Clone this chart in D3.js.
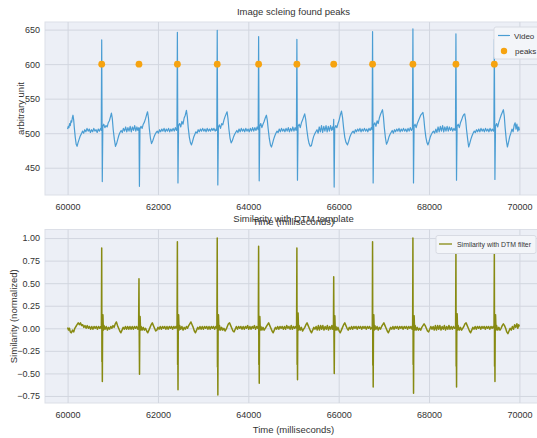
<!DOCTYPE html>
<html>
<head>
<meta charset="utf-8">
<script src="https://cdn.jsdelivr.net/npm/d3@7/dist/d3.min.js"></script>
<style>
  body { margin: 0; background: #ffffff; }
  svg text { font-family: "Liberation Sans Narrow", "Liberation Sans", Arial, sans-serif; fill: #333; }
  .ylab { font-family: "Liberation Sans", Arial, sans-serif; }
</style>
</head>
<body>
<svg id="chart" width="537" height="438"></svg>
<script>
// Step 1: data
const xTicks = [60000, 62000, 64000, 66000, 68000, 70000];
const videoTicks = [450, 500, 550, 600, 650];
const simTicks = [-0.75, -0.5, -0.25, 0, 0.25, 0.5, 0.75, 1.0];

const peakTimes = [60755, 61580, 62430, 63312, 64228, 65075, 65890, 66750, 67643, 68595, 69445];
const peakValues = [600, 600, 600, 600, 600, 600, 600, 600, 600, 600, 600];

// video signal, [time ms, value]
const videoSignal = [
  [60000,506],[60015,510],[60030,508],[60045,514],[60060,511],[60075,518],[60090,516],[60105,522],[60120,526],[60135,519],[60150,507],[60170,494],[60190,484],[60210,481],[60230,486],[60255,491],[60280,496],[60305,499],[60330,503],[60355,500],[60380,505],[60405,502],[60430,507],[60455,503],[60480,506],[60505,501],[60530,505],[60555,502],[60580,507],[60605,503],[60630,505],[60655,501],[60680,506],[60705,503],[60730,507],[60745,504],
  [60755,635],[60768,430],[60780,510],
  [60800,513],[60825,508],[60850,511],[60875,509],[60900,515],[60925,518],[60950,524],[60970,529],[60990,521],[61010,505],[61035,491],[61060,481],[61085,485],[61110,491],[61135,497],[61160,501],[61185,504],[61210,501],[61235,507],[61260,503],[61285,509],[61310,502],[61335,508],[61360,503],[61385,510],[61410,502],[61435,509],[61460,504],[61485,511],[61510,503],[61535,509],[61555,504],[61570,507],
  [61580,508],[61590,423],[61602,506],
  [61625,510],[61650,507],[61675,513],[61700,516],[61725,521],[61750,527],[61770,531],[61790,522],[61810,506],[61835,492],[61858,485],[61885,489],[61910,494],[61935,498],[61960,501],[61985,503],[62010,500],[62035,505],[62060,502],[62085,506],[62110,503],[62135,507],[62160,502],[62185,506],[62210,503],[62235,507],[62260,502],[62285,506],[62310,503],[62335,507],[62360,503],[62385,508],[62410,504],[62420,506],
  [62430,646],[62443,428],[62456,511],
  [62480,514],[62505,509],[62530,517],[62555,513],[62580,522],[62605,526],[62630,533],[62650,524],[62670,508],[62695,494],[62720,486],[62742,483],[62765,488],[62790,494],[62815,498],[62840,502],[62865,500],[62890,505],[62915,502],[62940,506],[62965,503],[62990,507],[63015,503],[63040,506],[63065,502],[63090,507],[63115,503],[63140,506],[63165,503],[63190,507],[63215,504],[63240,507],[63265,503],[63290,506],[63302,504],
  [63312,649],[63325,425],[63338,509],
  [63360,512],[63385,507],[63410,514],[63435,512],[63460,519],[63485,524],[63510,528],[63530,531],[63550,521],[63570,506],[63595,493],[63620,486],[63645,489],[63670,494],[63695,498],[63720,501],[63745,504],[63770,501],[63795,506],[63820,502],[63845,507],[63870,503],[63895,506],[63920,502],[63945,507],[63970,503],[63995,506],[64020,502],[64045,507],[64070,503],[64095,508],[64120,503],[64145,508],[64170,504],[64195,509],[64218,505],
  [64228,640],[64241,431],[64254,510],
  [64275,514],[64300,508],[64325,513],[64350,517],[64375,522],[64400,526],[64420,519],[64440,506],[64465,492],[64490,483],[64512,480],[64535,485],[64560,491],[64585,496],[64610,500],[64635,503],[64660,501],[64685,506],[64710,502],[64735,507],[64760,503],[64785,506],[64810,502],[64835,507],[64860,503],[64885,508],[64910,502],[64935,507],[64960,503],[64985,509],[65010,503],[65035,508],[65055,504],[65065,506],
  [65075,636],[65088,432],[65101,510],
  [65125,513],[65150,508],[65175,515],[65200,519],[65225,524],[65248,528],[65270,520],[65295,505],[65320,493],[65345,485],[65370,481],[65396,482],[65420,489],[65445,495],[65470,499],[65495,502],[65520,505],[65545,500],[65570,509],[65595,502],[65620,511],[65645,501],[65670,510],[65695,503],[65720,511],[65745,502],[65770,510],[65795,503],[65820,511],[65845,504],[65865,509],[65880,505],
  [65890,520],[65900,422],[65912,507],
  [65935,511],[65960,508],[65985,514],[66010,519],[66035,526],[66062,532],[66085,523],[66110,507],[66135,494],[66160,487],[66195,483],[66220,488],[66245,494],[66270,498],[66295,501],[66320,503],[66345,500],[66370,505],[66395,502],[66420,506],[66445,503],[66470,507],[66495,502],[66520,506],[66545,503],[66570,507],[66595,503],[66620,506],[66645,502],[66670,507],[66695,504],[66720,508],[66740,505],
  [66750,647],[66763,428],[66776,512],
  [66800,515],[66825,510],[66850,518],[66875,514],[66900,522],[66925,527],[66950,531],[66970,534],[66990,524],[67010,508],[67035,493],[67058,484],[67085,488],[67110,494],[67135,498],[67160,501],[67185,504],[67210,500],[67235,505],[67260,502],[67285,506],[67310,503],[67335,507],[67360,502],[67385,506],[67410,503],[67435,507],[67460,503],[67485,506],[67510,502],[67535,507],[67560,503],[67585,508],[67610,504],[67633,507],
  [67643,651],[67656,428],[67669,510],
  [67690,513],[67715,508],[67740,514],[67765,518],[67790,522],[67815,526],[67840,528],[67865,530],[67885,521],[67905,507],[67930,494],[67955,486],[67976,483],[68000,488],[68025,494],[68050,498],[68075,501],[68100,503],[68125,500],[68150,506],[68175,501],[68200,509],[68225,502],[68250,510],[68275,503],[68300,511],[68325,502],[68350,509],[68375,503],[68400,510],[68425,503],[68450,509],[68475,504],[68500,508],[68525,503],[68550,507],[68575,504],[68585,506],
  [68595,644],[68608,432],[68621,510],
  [68645,513],[68670,508],[68695,515],[68720,519],[68745,524],[68770,527],[68789,528],[68810,519],[68830,505],[68855,491],[68877,480],[68900,485],[68925,491],[68950,496],[68975,500],[69000,503],[69025,501],[69050,505],[69075,502],[69100,506],[69125,502],[69150,507],[69175,503],[69200,506],[69225,502],[69250,507],[69275,503],[69300,506],[69325,502],[69350,507],[69375,503],[69400,506],[69425,503],[69435,505],
  [69445,636],[69458,433],[69471,510],
  [69495,514],[69520,509],[69545,516],[69570,521],[69595,526],[69620,530],[69645,534],[69665,525],[69685,507],[69710,490],[69734,480],[69760,487],[69785,495],[69810,500],[69835,506],[69860,502],[69885,512],[69905,515],[69925,506],[69945,513],[69965,503],[69985,509],[70000,504]
];

// similarity with DTM filter, [time ms, normalized value]
const simSignal = [
  [60000,0.01],[60020,-0.02],[60040,0.0],[60060,-0.04],[60085,-0.05],[60110,-0.02],[60135,-0.04],[60160,0.0],[60185,0.02],[60210,0.04],[60235,0.06],[60260,0.04],[60285,0.06],[60310,0.03],[60335,0.04],[60360,0.01],[60385,0.03],[60410,0.0],[60435,0.03],[60460,0.0],[60485,0.02],[60510,-0.01],[60535,0.02],[60560,-0.01],[60585,0.02],[60610,0.0],[60635,0.02],[60660,-0.01],[60685,0.02],[60710,0.0],[60735,0.02],[60748,0.0],
  [60755,0.89],[60760,-0.37],[60764,-0.1],[60769,-0.59],[60775,0.06],[60782,0.15],[60792,-0.02],[60805,0.03],
  [60830,-0.01],[60855,0.02],[60880,-0.02],[60905,0.01],[60930,-0.01],[60955,0.02],[60980,0.0],[61005,0.03],[61030,0.01],[61055,0.05],[61080,0.07],[61105,0.03],[61130,0.0],[61155,-0.03],[61180,-0.05],[61205,-0.02],[61230,0.01],[61255,-0.01],[61280,0.02],[61305,-0.01],[61330,0.02],[61355,-0.01],[61380,0.02],[61405,-0.01],[61430,0.02],[61455,-0.01],[61480,0.02],[61505,0.0],[61530,0.02],[61555,-0.01],[61572,0.01],
  [61580,0.55],[61586,-0.1],[61592,-0.51],[61598,0.04],[61605,0.13],[61615,-0.02],[61628,0.02],
  [61650,-0.02],[61675,0.01],[61700,-0.02],[61725,0.0],[61750,-0.03],[61775,-0.05],[61800,-0.02],[61825,0.01],[61850,0.04],[61875,0.06],[61900,0.03],[61925,0.0],[61950,-0.03],[61975,-0.02],[62000,0.01],[62025,-0.01],[62050,0.02],[62075,-0.01],[62100,0.02],[62125,0.0],[62150,0.02],[62175,-0.01],[62200,0.02],[62225,-0.01],[62250,0.02],[62275,0.0],[62300,0.02],[62325,-0.01],[62350,0.02],[62375,0.0],[62400,0.02],[62422,0.0],
  [62430,0.96],[62435,-0.4],[62439,-0.12],[62444,-0.68],[62450,0.05],[62457,0.15],[62467,-0.02],[62480,0.03],
  [62505,-0.01],[62530,0.02],[62555,-0.02],[62580,0.01],[62605,-0.01],[62630,0.02],[62655,0.0],[62680,0.03],[62705,0.05],[62730,0.07],[62755,0.04],[62780,0.01],[62805,-0.03],[62830,-0.05],[62855,-0.02],[62880,0.01],[62905,-0.01],[62930,0.02],[62955,-0.01],[62980,0.02],[63005,-0.01],[63030,0.02],[63055,0.0],[63080,0.02],[63105,-0.01],[63130,0.02],[63155,-0.01],[63180,0.02],[63205,0.0],[63230,0.02],[63255,-0.01],[63280,0.02],[63304,0.0],
  [63312,1.0],[63317,-0.43],[63321,-0.14],[63326,-0.74],[63332,0.05],[63339,0.15],[63349,-0.02],[63362,0.03],
  [63385,-0.02],[63410,0.01],[63435,-0.02],[63460,0.0],[63485,-0.03],[63510,-0.01],[63535,0.02],[63560,0.05],[63585,0.06],[63610,0.03],[63635,0.0],[63660,-0.03],[63685,-0.04],[63710,-0.01],[63735,0.02],[63760,-0.01],[63785,0.02],[63810,0.0],[63835,0.02],[63860,-0.01],[63885,0.02],[63910,-0.01],[63935,0.02],[63960,0.0],[63985,0.03],[64010,-0.01],[64035,0.02],[64060,-0.01],[64085,0.02],[64110,0.0],[64135,0.03],[64160,-0.01],[64185,0.02],[64210,0.0],[64221,0.02],
  [64228,0.91],[64233,-0.4],[64237,-0.12],[64242,-0.61],[64248,0.04],[64255,0.13],[64265,-0.02],[64278,0.02],
  [64300,-0.02],[64325,0.01],[64350,-0.02],[64375,0.0],[64400,0.02],[64425,0.04],[64450,0.06],[64475,0.03],[64500,0.0],[64525,-0.03],[64550,-0.05],[64575,-0.02],[64600,0.01],[64625,-0.01],[64650,0.02],[64675,-0.01],[64700,0.02],[64725,0.0],[64750,0.02],[64775,-0.01],[64800,0.02],[64825,-0.01],[64850,0.03],[64875,0.0],[64900,0.02],[64925,-0.01],[64950,0.03],[64975,-0.01],[65000,0.02],[65025,0.0],[65050,0.02],[65068,0.0],
  [65075,0.89],[65080,-0.4],[65084,-0.12],[65089,-0.57],[65095,0.05],[65102,0.17],[65112,-0.02],[65125,0.03],
  [65150,-0.02],[65175,0.01],[65200,-0.03],[65225,-0.01],[65250,0.01],[65275,0.04],[65300,0.06],[65325,0.03],[65350,0.0],[65375,-0.03],[65400,-0.05],[65425,-0.02],[65450,0.01],[65475,-0.01],[65500,0.02],[65525,-0.02],[65550,0.03],[65575,-0.02],[65600,0.03],[65625,-0.01],[65650,0.03],[65675,-0.02],[65700,0.02],[65725,-0.01],[65750,0.03],[65775,-0.02],[65800,0.02],[65825,-0.01],[65850,0.03],[65870,-0.01],[65884,0.01],
  [65890,0.57],[65896,-0.1],[65902,-0.5],[65908,0.04],[65915,0.14],[65925,-0.02],[65938,0.02],
  [65960,-0.02],[65985,0.01],[66010,-0.03],[66035,-0.05],[66060,-0.02],[66085,0.01],[66110,0.04],[66135,0.06],[66160,0.03],[66185,0.0],[66210,-0.02],[66235,0.01],[66260,-0.01],[66285,0.02],[66310,-0.01],[66335,0.02],[66360,0.0],[66385,0.02],[66410,-0.01],[66435,0.02],[66460,0.0],[66485,0.02],[66510,-0.01],[66535,0.02],[66560,0.0],[66585,0.02],[66610,-0.01],[66635,0.02],[66660,0.0],[66685,0.02],[66710,-0.01],[66735,0.01],[66744,0.0],
  [66750,0.96],[66755,-0.41],[66759,-0.13],[66764,-0.65],[66770,0.05],[66777,0.15],[66787,-0.02],[66800,0.03],
  [66825,-0.01],[66850,0.02],[66875,-0.02],[66900,0.01],[66925,-0.01],[66950,0.02],[66975,0.04],[67000,0.06],[67025,0.03],[67050,0.0],[67075,-0.03],[67100,-0.05],[67125,-0.02],[67150,0.01],[67175,-0.01],[67200,0.02],[67225,-0.01],[67250,0.02],[67275,0.0],[67300,0.02],[67325,-0.01],[67350,0.02],[67375,0.0],[67400,0.02],[67425,-0.01],[67450,0.02],[67475,0.0],[67500,0.02],[67525,-0.01],[67550,0.02],[67575,0.0],[67600,0.02],[67625,-0.01],[67637,0.01],
  [67643,1.0],[67648,-0.4],[67652,-0.14],[67657,-0.72],[67663,0.05],[67670,0.14],[67680,-0.02],[67693,0.03],
  [67715,-0.02],[67740,0.01],[67765,-0.02],[67790,0.0],[67815,-0.02],[67840,0.01],[67865,0.03],[67890,0.05],[67915,0.03],[67940,0.0],[67965,-0.03],[67990,-0.04],[68015,-0.01],[68040,0.02],[68065,-0.01],[68090,0.02],[68115,-0.02],[68140,0.03],[68165,-0.02],[68190,0.03],[68215,-0.01],[68240,0.03],[68265,-0.02],[68290,0.02],[68315,-0.01],[68340,0.03],[68365,-0.02],[68390,0.02],[68415,-0.01],[68440,0.03],[68465,-0.01],[68490,0.02],[68515,-0.01],[68540,0.02],[68565,0.0],[68588,0.01],
  [68595,0.86],[68600,-0.42],[68604,-0.13],[68609,-0.65],[68615,0.05],[68622,0.16],[68632,-0.02],[68645,0.03],
  [68670,-0.02],[68695,0.01],[68720,-0.02],[68745,0.0],[68770,0.02],[68795,0.05],[68820,0.06],[68845,0.03],[68870,0.0],[68895,-0.03],[68920,-0.05],[68945,-0.02],[68970,0.01],[68995,-0.01],[69020,0.02],[69045,-0.01],[69070,0.02],[69095,0.0],[69120,0.02],[69145,-0.01],[69170,0.02],[69195,0.0],[69220,0.02],[69245,-0.01],[69270,0.02],[69295,0.0],[69320,0.02],[69345,-0.01],[69370,0.02],[69395,0.0],[69420,0.02],[69438,0.0],
  [69445,0.83],[69450,-0.42],[69454,-0.13],[69459,-0.59],[69465,0.05],[69472,0.15],[69482,-0.02],[69495,0.03],
  [69520,-0.02],[69545,0.01],[69570,-0.02],[69595,0.0],[69620,0.03],[69645,0.05],[69670,0.03],[69695,0.0],[69720,-0.04],[69745,-0.06],[69770,-0.03],[69795,0.0],[69820,-0.02],[69845,0.02],[69870,-0.01],[69895,0.04],[69920,0.01],[69945,0.05],[69965,0.0],[69985,0.04],[70000,0.02]
];

// Step 2: layout
const svg = d3.select('#chart');
const left = 45, right = 542;
const top1 = 22, bottom1 = 195;
const top2 = 229.5, bottom2 = 403;
const bg = '#eceff6';
const gridColor = '#d2d6df';

const x = d3.scaleLinear().domain([59500, 70500]).range([left, right]);
const y1 = d3.scaleLinear().domain([410.5, 661]).range([bottom1, top1]);
const y2 = d3.scaleLinear().domain([-0.828, 1.095]).range([bottom2, top2]);

// Step 3: one panel = background, grid, tick labels
function drawPanel(yScale, yTickVals, yFormat, top, bottom) {
  const g = svg.append('g');
  g.append('rect')
    .attr('x', left).attr('y', top)
    .attr('width', right - left).attr('height', bottom - top)
    .attr('fill', bg).attr('stroke', '#dcdfe7').attr('stroke-width', 1);

  g.append('g')
    .attr('transform', `translate(0,${bottom})`)
    .call(d3.axisBottom(x).tickValues(xTicks).tickSize(-(bottom - top)).tickFormat(d3.format('d')))
    .call(a => a.select('.domain').remove())
    .call(a => a.selectAll('line').attr('stroke', gridColor))
    .call(a => a.selectAll('text').attr('dy', '0.71em').attr('y', 9).attr('font-size', 9).attr('fill', '#333'));

  g.append('g')
    .attr('transform', `translate(${left},0)`)
    .call(d3.axisLeft(yScale).tickValues(yTickVals).tickSize(-(right - left)).tickFormat(yFormat))
    .call(a => a.select('.domain').remove())
    .call(a => a.selectAll('line').attr('stroke', gridColor))
    .call(a => a.selectAll('text').attr('x', -5).attr('font-size', 9).attr('fill', '#333'));
  return g;
}

drawPanel(y1, videoTicks, d3.format('d'), top1, bottom1);
drawPanel(y2, simTicks, d3.format('.2f'), top2, bottom2);

// Step 4: lines and peak markers
const line1 = d3.line().x(d => x(d[0])).y(d => y1(d[1]));
svg.append('path')
  .datum(videoSignal)
  .attr('d', line1)
  .attr('fill', 'none')
  .attr('stroke', '#4a9dd3')
  .attr('stroke-width', 1.2)
  .attr('stroke-linejoin', 'round');

svg.selectAll('.peak')
  .data(peakTimes)
  .enter().append('circle')
  .attr('class', 'peak')
  .attr('cx', d => x(d))
  .attr('cy', (d, i) => y1(peakValues[i]))
  .attr('r', 3.4)
  .attr('fill', '#f6a310');

const line2 = d3.line().x(d => x(d[0])).y(d => y2(d[1]));
svg.append('path')
  .datum(simSignal)
  .attr('d', line2)
  .attr('fill', 'none')
  .attr('stroke', '#878a12')
  .attr('stroke-width', 1.5)
  .attr('stroke-linejoin', 'round');

// Step 5: titles and labels
const midX = (left + right) / 2;
svg.append('text').attr('x', midX).attr('y', 15).attr('text-anchor', 'middle')
  .attr('font-size', 9.5).text('Image scleing found peaks');
svg.append('text').attr('x', midX).attr('y', 225).attr('text-anchor', 'middle')
  .attr('font-size', 9.5).text('Time (milliseconds)');
svg.append('text').attr('x', midX).attr('y', 222).attr('text-anchor', 'middle')
  .attr('font-size', 9.5).text('Similarity with DTM template');
svg.append('text').attr('x', midX).attr('y', 433).attr('text-anchor', 'middle')
  .attr('font-size', 9.5).text('Time (milliseconds)');

svg.append('text').attr('class', 'ylab')
  .attr('transform', `translate(24,${(top1 + bottom1) / 2}) rotate(-90)`)
  .attr('text-anchor', 'middle').attr('font-size', 9.5).text('arbitrary unit');
svg.append('text').attr('class', 'ylab')
  .attr('transform', `translate(17,${(top2 + bottom2) / 2}) rotate(-90)`)
  .attr('text-anchor', 'middle').attr('font-size', 9.5).text('Similarity (normalized)');

// Step 6: legends
const leg1 = svg.append('g').attr('transform', 'translate(494,27)');
leg1.append('rect').attr('width', 60).attr('height', 32).attr('rx', 2)
  .attr('fill', '#f3f5f9').attr('stroke', '#d8dbe3');
leg1.append('line').attr('x1', 4).attr('x2', 16).attr('y1', 8.5).attr('y2', 8.5)
  .attr('stroke', '#4a9dd3').attr('stroke-width', 1.2);
leg1.append('text').attr('x', 20).attr('y', 11.5).attr('font-size', 8).text('Video');
leg1.append('circle').attr('cx', 10).attr('cy', 24).attr('r', 3.2).attr('fill', '#f6a310');
leg1.append('text').attr('x', 21).attr('y', 27).attr('font-size', 8).text('peaks');

const leg2 = svg.append('g').attr('transform', 'translate(436,235.5)');
leg2.append('rect').attr('width', 100).attr('height', 18).attr('rx', 2)
  .attr('fill', '#f3f5f9').attr('stroke', '#d8dbe3');
leg2.append('line').attr('x1', 3).attr('x2', 16).attr('y1', 8.5).attr('y2', 8.5)
  .attr('stroke', '#878a12').attr('stroke-width', 1.3);
leg2.append('text').attr('x', 21).attr('y', 11.5).attr('font-size', 7.2)
  .attr('textLength', 74).attr('lengthAdjust', 'spacingAndGlyphs')
  .text('Similarity with DTM filter');
</script>
</body>
</html>
